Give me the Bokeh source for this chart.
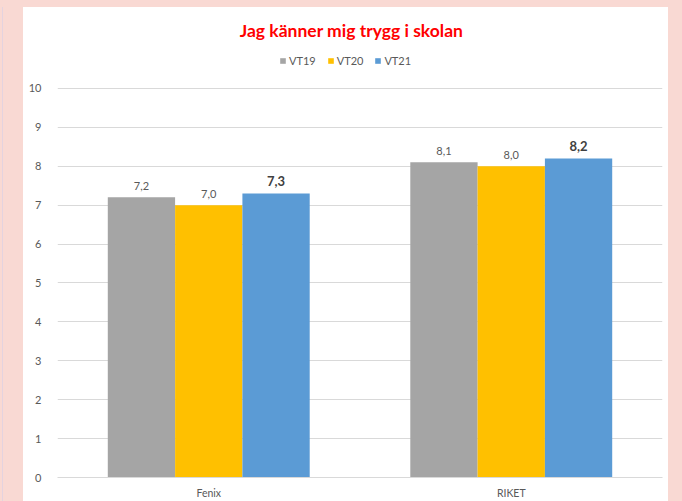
from bokeh.plotting import figure
from bokeh.models import FactorRange, Legend, LegendItem, Spacer, ColumnDataSource, Label, Range1d
from bokeh.layouts import row, column
from bokeh.transform import dodge
from bokeh.core.properties import value
from bokeh.embed import file_html
from bokeh.resources import INLINE

categories = ["Fenix", "RIKET"]
series = ["VT19", "VT20", "VT21"]
vt19 = [7.2, 8.1]
vt20 = [7.0, 8.0]
vt21 = [7.3, 8.2]
y_ticks = [0, 1, 2, 3, 4, 5, 6, 7, 8, 9, 10]
title_text = "Jag känner mig trygg i skolan"

colors = ["#A5A5A5", "#FFC000", "#5B9BD5"]
PINK = "#F9D9D3"
LAV = "#E4D3DF"
FONT = "Lato"
TXT = "#595959"

bar_w = 0.2225
offsets = [-bar_w, 0.0, bar_w]

p = figure(
    x_range=FactorRange(factors=categories, range_padding=0),
    y_range=Range1d(0, 12.08),
    width=645, height=494,
    output_backend="svg", toolbar_location=None,
    min_border_left=34, min_border_right=6, min_border_top=0, min_border_bottom=24,
    border_fill_color="white", background_fill_color="white",
    outline_line_color=None,
)
p.title.visible = False

items = []
for i, (name, vals) in enumerate(zip(series, [vt19, vt20, vt21])):
    labs = [f"{v:.1f}".replace(".", ",") for v in vals]
    src = ColumnDataSource(dict(cat=categories, val=vals, lab=labs))
    r = p.vbar(x=dodge("cat", offsets[i], range=p.x_range), top="val", width=bar_w,
               fill_color=colors[i], line_color=None, source=src)
    items.append(LegendItem(label=name, renderers=[r]))
    bold = (i == 2)
    p.text(x=dodge("cat", offsets[i], range=p.x_range), y="val", text="lab", source=src,
           text_align="center", text_baseline="bottom", y_offset=-7,
           text_font=value(FONT), text_font_size="13px" if bold else "11px",
           text_font_style="bold" if bold else "normal",
           text_color="#404040" if bold else TXT)

p.add_layout(Label(x=0.972, y=11.49, text=title_text, text_align="center",
                   text_baseline="middle", text_color="#FF0000", text_font=FONT,
                   text_font_style="bold", text_font_size="17.5px"))

legend = Legend(items=items, orientation="horizontal", location=(222, 410),
                border_line_color=None, background_fill_alpha=0,
                glyph_width=7, glyph_height=7, label_standoff=3, spacing=11,
                label_text_font=FONT, label_text_font_size="11px", label_text_color=TXT,
                padding=0, margin=0)
p.add_layout(legend)

p.yaxis.ticker = y_ticks
p.yaxis.axis_line_color = None
p.yaxis.major_tick_line_color = None
p.yaxis.minor_tick_line_color = None
p.yaxis.major_label_text_font = FONT
p.yaxis.major_label_text_font_size = "11px"
p.yaxis.major_label_text_color = TXT
p.yaxis.major_label_standoff = 10

p.xaxis.axis_line_color = "#D9D9D9"
p.xaxis.major_tick_line_color = None
p.xaxis.minor_tick_line_color = None
p.xaxis.major_label_text_font = FONT
p.xaxis.major_label_text_font_size = "10.5px"
p.xaxis.major_label_text_color = TXT
p.xaxis.major_label_standoff = 3

p.ygrid.grid_line_color = "#D9D9D9"
p.ygrid.ticker = y_ticks
p.xgrid.grid_line_color = None

top = Spacer(width=682, height=7, styles={"background-color": PINK})
left = row(
    Spacer(width=2, height=494, styles={"background-color": PINK}),
    Spacer(width=1, height=494, styles={"background-color": LAV}),
    Spacer(width=20, height=494, styles={"background-color": PINK}),
)
right = Spacer(width=14, height=494, styles={"background-color": PINK})
layout = column(top, row(left, p, right))

open("out.html", "w").write(file_html(layout, INLINE))
